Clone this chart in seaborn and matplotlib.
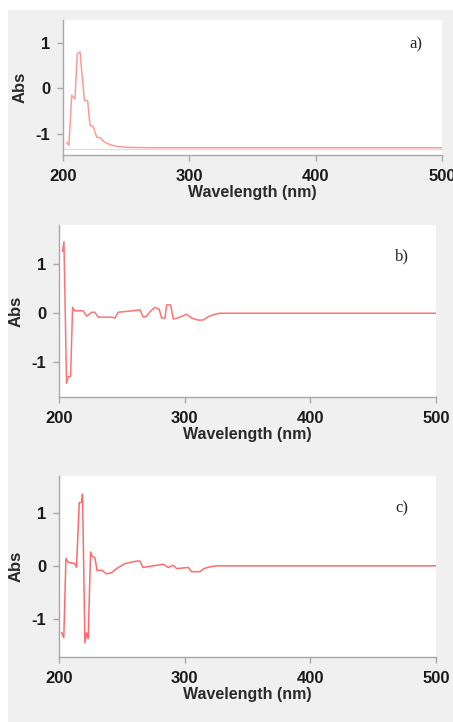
import matplotlib
matplotlib.use("Agg")
import matplotlib.pyplot as plt
import seaborn as sns
from matplotlib.patches import Rectangle

# spectrum a)
wl_a = [203, 204.7, 206.9, 209.5, 211.3, 213.5, 216.9, 219.5, 221.4, 224, 226.7,
        229.3, 233, 237, 242.5, 250, 270, 300, 400, 500]
abs_a = [-1.18, -1.25, -0.15, -0.23, 0.76, 0.8, -0.26, -0.27, -0.81, -0.84, -1.07,
         -1.08, -1.18, -1.23, -1.27, -1.29, -1.30, -1.30, -1.30, -1.30]
baseline_a = -1.33

# spectrum b)
wl_b = [202.9, 204, 206.1, 207.4, 209.3, 210.9, 212.7, 219.3, 222, 226, 228.6, 231.3,
        241.9, 244.6, 247.2, 255, 264.5, 267, 269.8, 272.4, 276.4, 279.8, 281.7,
        284.4, 285.7, 288.9, 291, 296.3, 301.6, 305.6, 310.8, 314.8, 318.8, 322.8,
        328, 500]
abs_b = [1.27, 1.47, -1.44, -1.30, -1.30, 0.12, 0.05, 0.05, -0.06, 0.02, 0.02, -0.08,
         -0.08, -0.1, 0.02, 0.04, 0.07, -0.08, -0.06, 0.03, 0.12, 0.08, -0.1,
         -0.1, 0.17, 0.17, -0.12, -0.08, -0.02, -0.1, -0.14, -0.14, -0.07, -0.03,
         0.0, 0.0]

# spectrum c)
wl_c = [202.1, 203.9, 205.6, 207.4, 212.7, 214, 216.2, 218, 218.8, 220.7, 222, 223.3,
        225.2, 226.8, 228.6, 230.4, 233.9, 237.9, 241.9, 245.9, 252.5, 261.8, 264.4,
        266.9, 269.8, 283, 287, 291, 293.6, 295, 303, 305.6, 312.2, 315.4, 320.1,
        325.5, 500]
abs_c = [-1.25, -1.35, 0.14, 0.07, 0.04, -0.03, 1.19, 1.19, 1.35, -1.45, -1.26, -1.37,
         0.26, 0.17, 0.16, -0.09, -0.08, -0.15, -0.13, -0.05, 0.04, 0.09, 0.09,
         -0.03, -0.02, 0.03, -0.03, 0.01, -0.05, -0.05, -0.03, -0.11, -0.11, -0.05, -0.02,
         0.0, 0.0]

panels = [
    (wl_a, abs_a, "a)", (-1.46, 1.5), "#ff9a9a", [0.139, 0.7853, 0.837, 0.187], 0.93),
    (wl_b, abs_b, "b)", (-1.72, 1.81), "#ff7373", [0.130, 0.450, 0.8325, 0.2384], 0.91),
    (wl_c, abs_c, "c)", (-1.71, 1.69), "#ff6b6b", [0.130, 0.0904, 0.8325, 0.2503], 0.91),
]

sns.set_style("white")
plt.rcParams['font.family'] = ['Liberation Sans', 'DejaVu Sans']

fig = plt.figure(figsize=(4.53, 7.22), dpi=100)
fig.patch.set_facecolor("#f0f0f0")
fig.patches.append(Rectangle((0, 0.986), 1, 0.014, transform=fig.transFigure,
                             facecolor="white", edgecolor="none", zorder=0))
fig.patches.append(Rectangle((0, 0), 0.018, 1, transform=fig.transFigure,
                             facecolor="white", edgecolor="none", zorder=0))

for i, (x, y, tag, ylim, col, pos, tx) in enumerate(panels):
    ax = fig.add_axes(pos)
    ax.set_facecolor("white")
    sns.lineplot(x=x, y=y, ax=ax, color=col, linewidth=1.1)
    if i == 0:
        ax.axhline(baseline_a, color="#dddddd", linewidth=0.9, zorder=1)
    ax.set_xlim(200, 500)
    ax.set_ylim(*ylim)
    ax.set_xticks([200, 300, 400, 500])
    ax.set_yticks([-1, 0, 1])
    ax.set_yticklabels(["-1", "0", "1"])
    for s in ["top", "right"]:
        ax.spines[s].set_visible(False)
    for s in ["left", "bottom"]:
        ax.spines[s].set_color("#a8a8a8")
        ax.spines[s].set_linewidth(1.0)
    ax.tick_params(axis="both", length=4, width=1, color="#a8a8a8", direction="out",
                   labelsize=12, bottom=True, left=True)
    ax.tick_params(axis="x", pad=6)
    ax.tick_params(axis="y", pad=5)
    for lab in ax.get_xticklabels() + ax.get_yticklabels():
        lab.set_fontweight("bold")
        lab.set_color("#1a1a1a")
    ax.set_xlabel("Wavelength (nm)", fontsize=11.5, fontweight="bold", color="#2a2a2a", labelpad=1)
    ax.set_ylabel("Abs", fontsize=12, fontweight="bold", color="#2a2a2a", labelpad=6)
    ax.text(tx, 0.82, tag, transform=ax.transAxes, fontsize=12,
            family=["Liberation Serif", "DejaVu Serif"], ha="center", va="center")

fig.savefig("out.png", dpi=100, facecolor=fig.get_facecolor())
